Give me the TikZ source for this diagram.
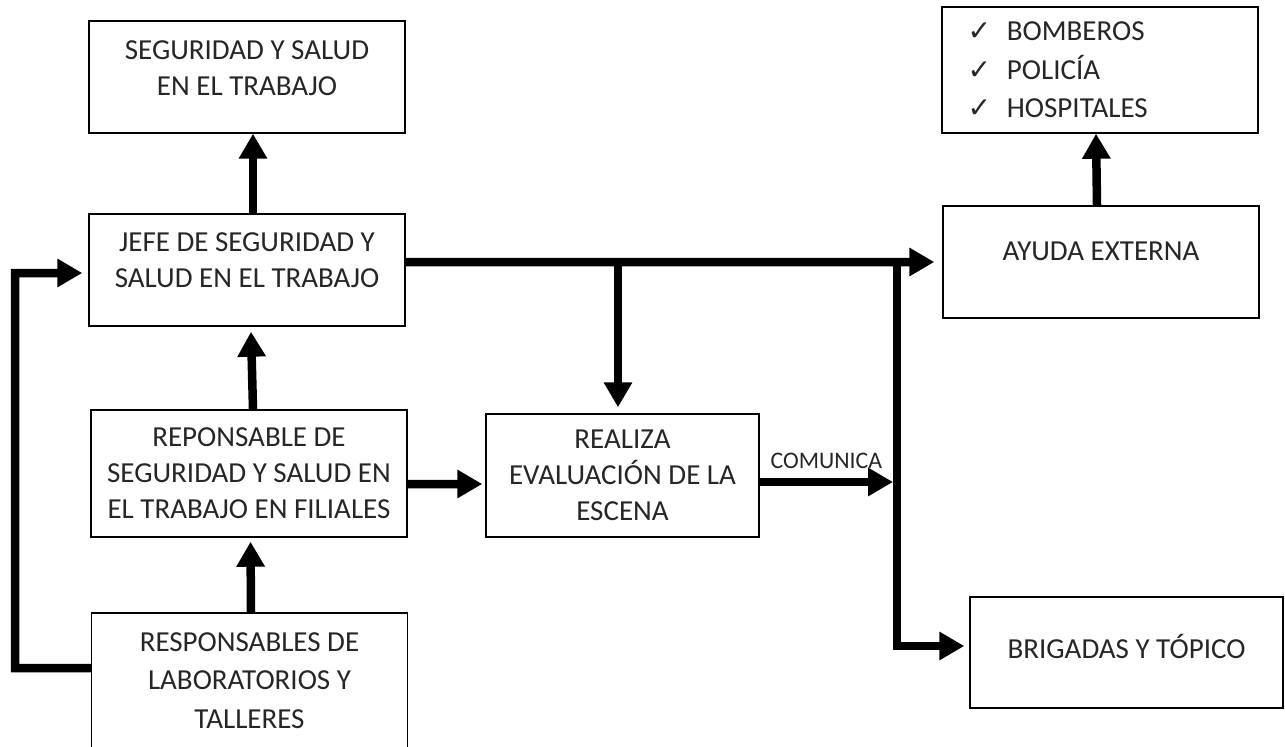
\documentclass[tikz,border=0pt]{standalone}
\usepackage{fontspec}
\setmainfont{Carlito}
\newfontfamily\checkfont{DejaVu Sans}
\usetikzlibrary{arrows.meta}

\begin{document}
\begin{tikzpicture}[scale=1, line width=0.8pt, font={\fontsize{16.5pt}{20.5pt}\selectfont}, >={Triangle[length=0.5cm,width=0.54cm]},
		caja/.style={draw, rectangle, minimum width=6.32cm, align=center, text=black!85, inner sep=0pt},
		alta/.style={text depth=#1},
		flecha/.style={->, line width=0.17cm}]
		\clip (0,0) rectangle (25.7,-14.92);
		\node[caja, minimum height=2.24cm, alta=0.36cm] (sst) at (4.94,-1.54) {SEGURIDAD Y SALUD\\EN EL TRABAJO};
		\node[caja, minimum height=2.24cm, alta=0.40cm] (jefe) at (4.94,-5.40) {JEFE DE SEGURIDAD Y\\SALUD EN EL TRABAJO};
		\node[caja, minimum height=2.54cm] (repon) at (4.98,-9.47) {REPONSABLE DE\\SEGURIDAD Y SALUD EN\\EL TRABAJO EN FILIALES};
		\node[caja, minimum height=2.70cm, font={\fontsize{16.5pt}{22pt}\selectfont}] (resp) at (4.99,-13.61) {RESPONSABLES DE\\LABORATORIOS Y\\TALLERES};
		\node[caja, minimum width=5.46cm, minimum height=2.46cm] (realiza) at (12.45,-9.51) {REALIZA\\EVALUACIÓN DE LA\\ESCENA};
		\node[caja, minimum height=2.52cm, text width=5.30cm, align=left, font={\fontsize{16.5pt}{22pt}\selectfont}] (lista) at (22.00,-1.40) {{\checkfont\fontsize{16pt}{22pt}\selectfont ✓}\hspace{9pt}BOMBEROS\\{\checkfont\fontsize{16pt}{22pt}\selectfont ✓}\hspace{9pt}POLICÍA\\{\checkfont\fontsize{16pt}{22pt}\selectfont ✓}\hspace{9pt}HOSPITALES};
		\node[caja, minimum height=2.24cm, alta=0.44cm] (ayuda) at (22.02,-5.24) {AYUDA EXTERNA};
		\node[caja, minimum width=6.26cm, minimum height=2.22cm, alta=0.26cm] (brig) at (22.53,-13.05) {BRIGADAS Y TÓPICO};
		\coordinate (izq) at (0.30,-5.46);
		\coordinate (rama) at (12.36,-5.24);
		\coordinate (bus) at (17.94,-5.24);
		\coordinate (com) at (17.86,-9.64);
		\draw[flecha] ([xshift=0.12cm]jefe.north) -- ([xshift=0.12cm]sst.south);
		\draw[flecha] ([xshift=0.08cm]repon.north) -- ([xshift=0.08cm, yshift=-0.10cm]jefe.south);
		\draw[flecha] ([xshift=0.03cm]resp.north) -- ([xshift=0.03cm, yshift=-0.08cm]repon.south);
		\draw[flecha] ([yshift=0.25cm]resp.west) -| (izq) -- ([xshift=-0.12cm, yshift=-0.06cm]jefe.west);
		\draw[flecha] ([yshift=0.16cm]jefe.east) -- ([xshift=-0.16cm]ayuda.west);
		\draw[flecha] (rama) -- ([xshift=-0.09cm, yshift=0.12cm]realiza.north);
		\draw[flecha] (bus) |- ([xshift=-0.10cm, yshift=0.13cm]brig.west);
		\draw[flecha] ([yshift=-0.21cm]repon.east) -- ([xshift=-0.06cm, yshift=-0.17cm]realiza.west);
		\draw[flecha] ([yshift=-0.13cm]realiza.east) -- (com) node[midway, above=2pt, font={\fontsize{13.5pt}{14pt}\selectfont}, text=black!85] (etq) {COMUNICA};
		\draw[flecha] ([xshift=-0.08cm]ayuda.north) -- ([xshift=-0.08cm]lista.south);
\end{tikzpicture}
\end{document}
